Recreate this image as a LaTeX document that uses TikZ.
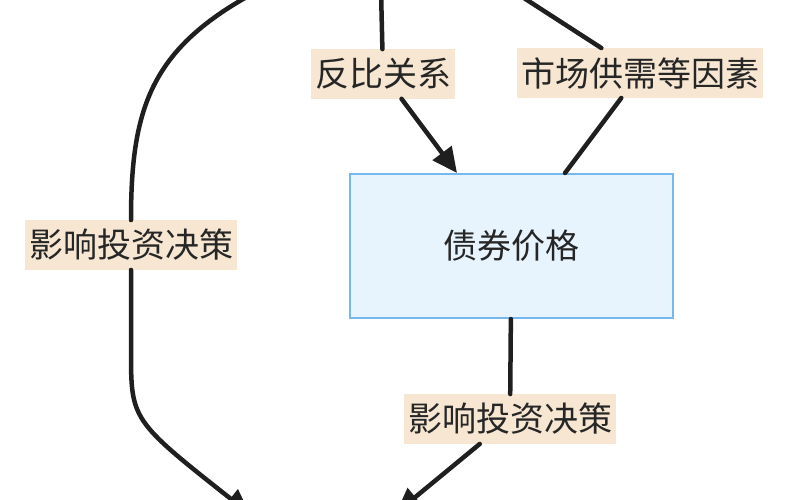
\documentclass[tikz,border=0pt]{standalone}
\usepackage{fontspec}
\newfontfamily\cjk{Noto Sans CJK SC}
\usetikzlibrary{arrows.meta}

\definecolor{boxfill}{HTML}{E8F4FD}
\definecolor{boxline}{HTML}{74B8EE}
\definecolor{lblfill}{HTML}{F6E6D2}
\definecolor{txt}{HTML}{262626}

\tikzset{
	kasten/.style={draw=boxline, fill=boxfill, line width=2pt, minimum width=323pt, minimum height=144pt, font=\cjk\fontsize{34}{40}\selectfont, text=txt},
	etikett/.style={fill=lblfill, inner xsep=4pt, inner ysep=9pt, font=\cjk\fontsize{34}{40}\selectfont, text=txt},
	kante/.style={line width=4.5pt, draw=black!88, line cap=round},
	pfeil/.style={kante, -{Triangle[length=25pt,width=23pt]}}
}

\begin{document}
\begin{tikzpicture}[x=1pt,y=-1pt]
	% Rahmen
	\useasboundingbox[fill=white] (0,0) rectangle (800,500);
	\clip (0,0) rectangle (800,500);
	% Knoten
	\node[kasten] (price) at (511.5,246) {债券价格};
	\node[etikett] (lblInverse) at (383,74) {反比关系};
	\node[etikett] (lblMarket) at (640,73) {市场供需等因素};
	\node[etikett] (lblLeft) at (131,245) {影响投资决策};
	\node[etikett] (lblBottom) at (510,419) {影响投资决策};
	% freie Enden
	\coordinate (inversOben) at (381,-10);
	\coordinate (marktOben) at (510,-11);
	\coordinate (linksOben) at (252,-6);
	\coordinate (linksUnten) at (250,514);
	\coordinate (rechtsUnten) at (396,513);
	% Kanten
	\draw[kante] (inversOben) -- (lblInverse);
	\draw[pfeil] (lblInverse) -- ([xshift=-54.5pt]price.north);
	\draw[kante] (marktOben) -- (lblMarket);
	\draw[kante] (lblMarket) -- ([xshift=53.5pt]price.north);
	\draw[kante] (linksOben) .. controls (150,50) and (131,110) .. (lblLeft);
	\draw[pfeil] (lblLeft) -- (131,350) .. controls (131,420) .. (linksUnten);
	\draw[kante] (price) -- (lblBottom);
	\draw[pfeil] (lblBottom) -- (rechtsUnten);
\end{tikzpicture}
\end{document}
